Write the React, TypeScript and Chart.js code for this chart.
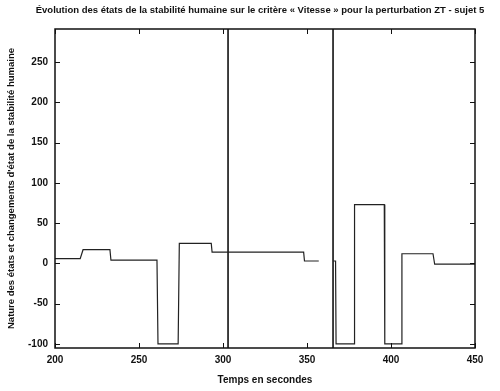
import React, { useEffect, useRef } from "react";
import { Chart, registerables } from "chart.js";

Chart.register(...registerables);

const titleText =
  "Évolution des états de la stabilité humaine sur le critère « Vitesse » pour la perturbation ZT - sujet 5";
const xAxisTitle = "Temps en secondes";
const yAxisTitle = "Nature des états et changements d'état de la stabilité humaine";

// Time (s) and state value of the stepped trace (null = gap in the trace)
const timeSeconds = [
  200, 215, 216.7, 232.7, 233.3, 260.7, 261.3, 273.3, 274, 293, 293.5, 348, 348.5, 357,
  361, 365.5, 367, 367.3, 378, 378.3, 396, 396.3, 406, 406.5, 425, 426, 450,
];
const stateValues: (number | null)[] = [
  6, 6, 17, 17, 4, 4, -100, -100, 25, 25, 14, 14, 3, 3,
  null, 3, 3, -100, -100, 73, 73, -100, -100, 12, 12, -1, -1,
];

// Times of the full-height vertical event lines
const eventTimes = [303, 365.5];

const xTickValues = [200, 250, 300, 350, 400, 450];
const yTickValues = [-100, -50, 0, 50, 100, 150, 200, 250];
const xRange = [200, 450];
const yRange = [-105, 291];

const FONT = "'Liberation Sans', Arial, sans-serif";
const INK = "#111";

const framePlugin = {
  id: "frameAndTitle",
  afterDatasetsDraw(chart: any) {
    const { ctx, chartArea } = chart;
    const { left, right, top, bottom } = chartArea;
    const xs = chart.scales.x;
    const ys = chart.scales.y;
    ctx.save();
    ctx.strokeStyle = INK;
    ctx.lineWidth = 1.5;
    ctx.strokeRect(left, top, right - left, bottom - top);
    ctx.lineWidth = 1;
    const len = 5;
    ctx.beginPath();
    xs.ticks.forEach((t: any) => {
      const px = Math.round(xs.getPixelForValue(t.value)) + 0.5;
      ctx.moveTo(px, bottom);
      ctx.lineTo(px, bottom - len);
      ctx.moveTo(px, top);
      ctx.lineTo(px, top + len);
    });
    ys.ticks.forEach((t: any) => {
      const py = Math.round(ys.getPixelForValue(t.value)) + 0.5;
      ctx.moveTo(left, py);
      ctx.lineTo(left + len, py);
      ctx.moveTo(right, py);
      ctx.lineTo(right - len, py);
    });
    ctx.stroke();
    // title
    ctx.fillStyle = INK;
    ctx.font = `bold 9.5px ${FONT}`;
    ctx.textAlign = "center";
    ctx.textBaseline = "middle";
    ctx.fillText(titleText, 260, 10);
    ctx.restore();
  },
};

export default function App() {
  const canvasRef = useRef<HTMLCanvasElement | null>(null);

  useEffect(() => {
    if (!canvasRef.current) return;
    const traceData = timeSeconds.map((t, i) => ({ x: t, y: stateValues[i] }));
    const eventDatasets = eventTimes.map((t) => ({
      label: `event ${t}`,
      data: [
        { x: t, y: yRange[0] },
        { x: t, y: yRange[1] },
      ],
      borderColor: INK,
      borderWidth: 1.6,
      pointRadius: 0,
      fill: false,
    }));
    const chart = new Chart(canvasRef.current, {
      type: "line",
      data: {
        datasets: [
          {
            label: "Vitesse",
            data: traceData as any,
            borderColor: "#222",
            borderWidth: 1.2,
            pointRadius: 0,
            fill: false,
            spanGaps: false,
            tension: 0,
          },
          ...eventDatasets,
        ],
      },
      options: {
        animation: false,
        responsive: false,
        maintainAspectRatio: false,
        layout: { padding: { top: 29, right: 25, left: 0, bottom: 0 } },
        plugins: {
          legend: { display: false },
          tooltip: { enabled: false },
          title: { display: false },
        },
        scales: {
          x: {
            type: "linear",
            min: xRange[0],
            max: xRange[1],
            afterBuildTicks: (scale: any) => {
              scale.ticks = xTickValues.map((v) => ({ value: v }));
            },
            afterFit: (scale: any) => {
              scale.height = 43;
            },
            grid: { display: false, drawTicks: false },
            border: { display: false },
            ticks: {
              padding: 6,
              color: INK,
              maxRotation: 0,
              font: { size: 10, weight: "bold", family: FONT },
            },
            title: {
              display: true,
              text: xAxisTitle,
              color: INK,
              font: { size: 10, weight: "bold", family: FONT },
              padding: { top: 0, bottom: 5 },
            },
          },
          y: {
            type: "linear",
            min: yRange[0],
            max: yRange[1],
            afterBuildTicks: (scale: any) => {
              scale.ticks = yTickValues.map((v) => ({ value: v }));
            },
            afterFit: (scale: any) => {
              scale.width = 55;
            },
            grid: { display: false, drawTicks: false },
            border: { display: false },
            ticks: {
              padding: 7,
              color: INK,
              font: { size: 10, weight: "bold", family: FONT },
            },
            title: {
              display: true,
              text: yAxisTitle,
              color: INK,
              font: { size: 9.5, weight: "bold", family: FONT },
              padding: { top: 6, bottom: 0 },
            },
          },
        },
      },
      plugins: [framePlugin],
    });
    return () => chart.destroy();
  }, []);

  return (
    <div style={{ position: "absolute", left: 0, top: 0, width: 500, height: 391, background: "#fff" }}>
      <canvas ref={canvasRef} width={500} height={391} style={{ width: 500, height: 391, display: "block" }} />
    </div>
  );
}
